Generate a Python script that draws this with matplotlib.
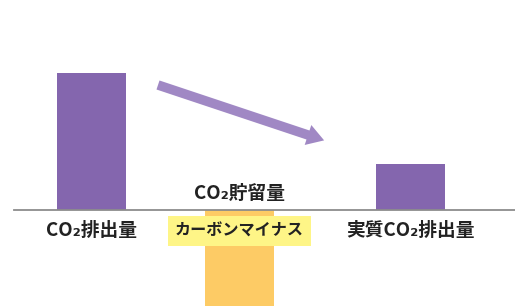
import matplotlib
matplotlib.use("Agg")
import matplotlib.pyplot as plt
from matplotlib.patches import FancyArrow

plt.rcParams["font.family"] = ["Noto Sans CJK JP", "DejaVu Sans"]

# data (values in chart units above/below the zero line)
categories = ["CO₂排出量", "CO₂貯留量", "実質CO₂排出量"]
values = [137, -100, 46]
bar_colors = ["#8466ae", "#fdcb65", "#8466ae"]
minus_label = "カーボンマイナス"

# layout
x_pos = [91.5, 239.5, 410.5]
BAR_W = 69
TEXT = "#222222"
FS = 13.5

fig = plt.figure(figsize=(5.15, 3.06), dpi=100)
ax = fig.add_axes([0, 0, 1, 1])
ax.set_xlim(0, 515)
ax.set_ylim(-96, 210)
ax.axis("off")

ax.bar(x_pos, values, width=BAR_W, color=bar_colors, zorder=2)
ax.plot([14, 515], [0, 0], color="#8c8c8c", lw=1.3, zorder=3)

# labels
ax.text(x_pos[0], -21, categories[0], ha="center", va="center",
        fontsize=FS, fontweight="bold", color=TEXT, zorder=4)
ax.text(x_pos[2], -21, categories[2], ha="center", va="center",
        fontsize=FS, fontweight="bold", color=TEXT, zorder=4)
ax.text(x_pos[1], 17, categories[1], ha="center", va="center",
        fontsize=FS, fontweight="bold", color=TEXT, zorder=4)
ax.text(x_pos[1], -21, minus_label, ha="center", va="center",
        fontsize=11.6, fontweight="bold", color=TEXT, zorder=4,
        bbox=dict(boxstyle="square,pad=0.42", fc="#fef587", ec="none"))

# decreasing arrow
ax.add_patch(FancyArrow(158, 125, 150, -50, width=9.5, head_width=21,
                        head_length=17, length_includes_head=False,
                        color="#a088c4", lw=0, zorder=2))

fig.savefig("out.png", dpi=100)
